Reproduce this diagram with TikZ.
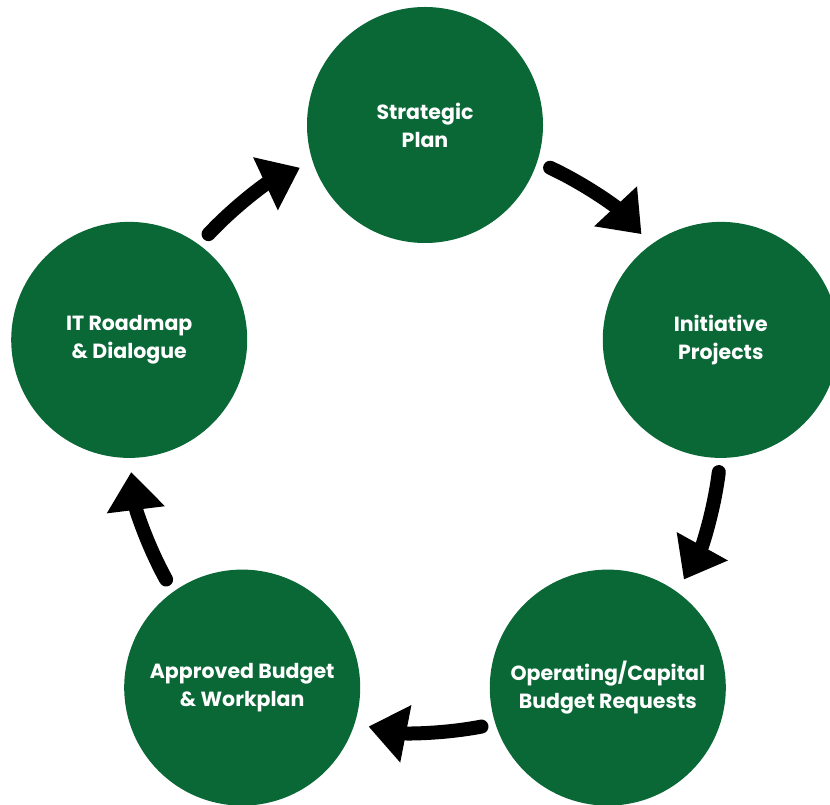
\documentclass[tikz,border=0pt]{standalone}
\usepackage{fontspec}
\setmainfont{Poppins}
\usetikzlibrary{arrows.meta,calc}
\definecolor{fgreen}{RGB}{10,104,55}
\begin{document}
\begin{tikzpicture}[x=1pt,y=1pt,
  stage/.style={circle, fill=fgreen, minimum size=236pt, inner sep=0pt, text=white,
    font=\fontsize{20.5}{28}\selectfont\bfseries, align=center},
  cyc/.style={line width=14pt, line cap=round, -{Triangle[length=38pt,width=56pt]}}]
\useasboundingbox (0,0) rectangle (830,804);
\clip (0,0) rectangle (830,804);
\fill[white] (0,0) rectangle (830,804);
\coordinate (C) at (425,368);
\node[stage] (sp) at ($(C)+(90:311)$) {Strategic\\Plan};
\node[stage] (ip) at ($(C)+(18:311)$) {Initiative\\Projects};
\node[stage] (ob) at ($(C)+(-54:311)$) {Operating/Capital\\Budget Requests};
\node[stage] (ab) at ($(C)+(-126:311)$) {Approved Budget\\\& Workplan};
\node[stage] (it) at ($(C)+(162:311)$) {IT Roadmap\\\& Dialogue};
\draw[cyc] ($(C)+(137:296)$) arc[start angle=137, end angle=115, radius=296];
\draw[cyc] ($(C)+(65:296)$) arc[start angle=65, end angle=43, radius=296];
\draw[cyc] ($(C)+(-7:296)$) arc[start angle=-7, end angle=-29, radius=296];
\draw[cyc] ($(C)+(-79:296)$) arc[start angle=-79, end angle=-101, radius=296];
\draw[cyc] ($(C)+(-151:296)$) arc[start angle=-151, end angle=-173, radius=296];
\end{tikzpicture}
\end{document}
